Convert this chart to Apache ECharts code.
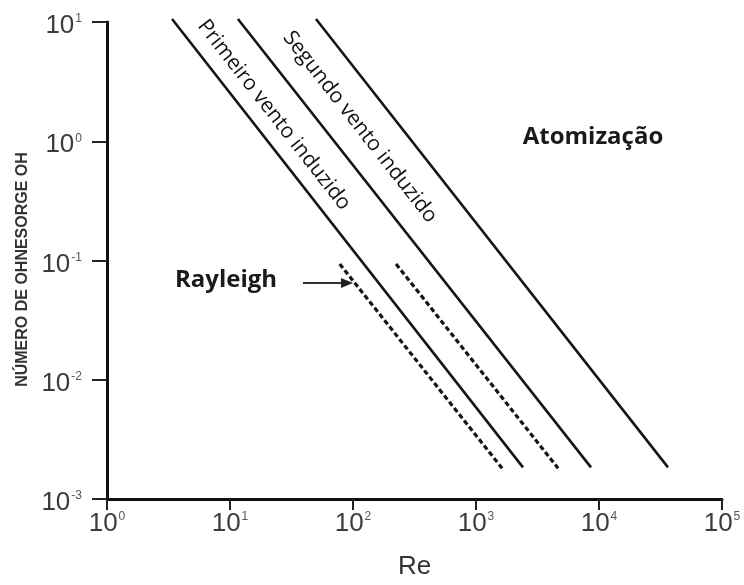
<!DOCTYPE html>
<html>
<head>
<meta charset="utf-8">
<script src="https://cdn.jsdelivr.net/npm/echarts@6/dist/echarts.min.js"></script>
<style>
  html, body { margin: 0; padding: 0; background: #fff; }
  #chart { width: 744px; height: 585px; }
</style>
</head>
<body>
<div id="chart"></div>
<script>
// regime boundaries, Oh vs Re (log-log)
var primeiroRe = [3.38, 2410];
var primeiroOh = [10.6, 0.00184];
var segundoRe = [11.6, 8610];
var segundoOh = [10.6, 0.00184];
var atomRe = [50, 36400];
var atomOh = [10.6, 0.00184];
// Rayleigh dashed limits
var ray1Re = [78, 1630];
var ray1Oh = [0.0935, 0.00181];
var ray2Re = [224, 4650];
var ray2Oh = [0.0935, 0.00181];

function pts(re, oh){
	var out = [];
	for(var i=0;i<re.length;i++){
		out.push([re[i], oh[i]]);
	}
	return out;
}

function supLabel(v){
	var e = Math.round(Math.log10(v));
	return '{b|10}{e|' + e + '}';
}

var labelRich = {
	b: { fontSize: 26, fontFamily: 'Liberation Sans', color: '#3c3c3c' },
	e: { fontSize: 12, fontFamily: 'Liberation Sans', color: '#555', verticalAlign: 'top', padding: [0, 0, 0, 1] }
};

function solid(re, oh){
	return {
		type: 'line',
		data: pts(re, oh),
		showSymbol: false,
		clip: false,
		silent: true,
		lineStyle: { color: '#151515', width: 2.6 }
	};
}
function dashed(re, oh){
	return {
		type: 'line',
		data: pts(re, oh),
		showSymbol: false,
		clip: false,
		silent: true,
		lineStyle: { color: '#151515', width: 3.2, type: [5, 3] }
	};
}

var ang = -52 * Math.PI / 180;
var chart = echarts.init(document.getElementById('chart'));
var option = {
	backgroundColor: '#fff',
	animation: false,
	grid: { left: 107, right: 22, top: 22, bottom: 80 },
	xAxis: {
		type: 'log',
		logBase: 10,
		min: 1,
		max: 100000,
		name: 'Re',
		nameLocation: 'middle',
		nameGap: 55,
		nameTextStyle: { fontSize: 26, fontFamily: 'Liberation Sans', color: '#333' },
		axisLine: { lineStyle: { color: '#111', width: 3 } },
		axisTick: { length: 11, lineStyle: { color: '#222', width: 2 } },
		minorTick: { show: false },
		splitLine: { show: false },
		axisLabel: { margin: 12, formatter: supLabel, rich: labelRich }
	},
	yAxis: {
		type: 'log',
		logBase: 10,
		min: 0.001,
		max: 10,
		name: 'NÚMERO DE OHNESORGE OH',
		nameLocation: 'middle',
		nameGap: 76,
		nameTextStyle: { fontSize: 16, fontWeight: 'bold', fontFamily: 'Liberation Sans', color: '#333', padding: [0, 0, 0, -18] },
		axisLine: { lineStyle: { color: '#111', width: 3 } },
		axisTick: { length: 15, lineStyle: { color: '#222', width: 2 } },
		minorTick: { show: false },
		splitLine: { show: false },
		axisLabel: { margin: 25, padding: [8, 0, 0, 0], formatter: supLabel, rich: labelRich }
	},
	graphic: [
		{
			type: 'text', x: 274, y: 115, rotation: ang,
			style: { text: 'Primeiro vento induzido', font: '21px "Open Sans"', fill: '#111', align: 'center', verticalAlign: 'middle' }
		},
		{
			type: 'text', x: 360, y: 127, rotation: ang,
			style: { text: 'Segundo vento induzido', font: '21px "Open Sans"', fill: '#111', align: 'center', verticalAlign: 'middle' }
		},
		{
			type: 'text', x: 593, y: 137,
			style: { text: 'Atomização', font: 'bold 24px "Open Sans"', fill: '#1a1a1a', align: 'center', verticalAlign: 'middle' }
		},
		{
			type: 'text', x: 226, y: 280,
			style: { text: 'Rayleigh', font: 'bold 24px "Open Sans"', fill: '#1a1a1a', align: 'center', verticalAlign: 'middle' }
		},
		{
			type: 'line',
			shape: { x1: 303, y1: 283, x2: 343, y2: 283 },
			style: { stroke: '#333', lineWidth: 2 }
		},
		{
			type: 'polygon',
			shape: { points: [[353, 283], [341, 278], [341, 288]] },
			style: { fill: '#222' }
		}
	],
	series: [
		solid(primeiroRe, primeiroOh),
		solid(segundoRe, segundoOh),
		solid(atomRe, atomOh),
		dashed(ray1Re, ray1Oh),
		dashed(ray2Re, ray2Oh)
	]
};
chart.setOption(option);
</script>
</body>
</html>
